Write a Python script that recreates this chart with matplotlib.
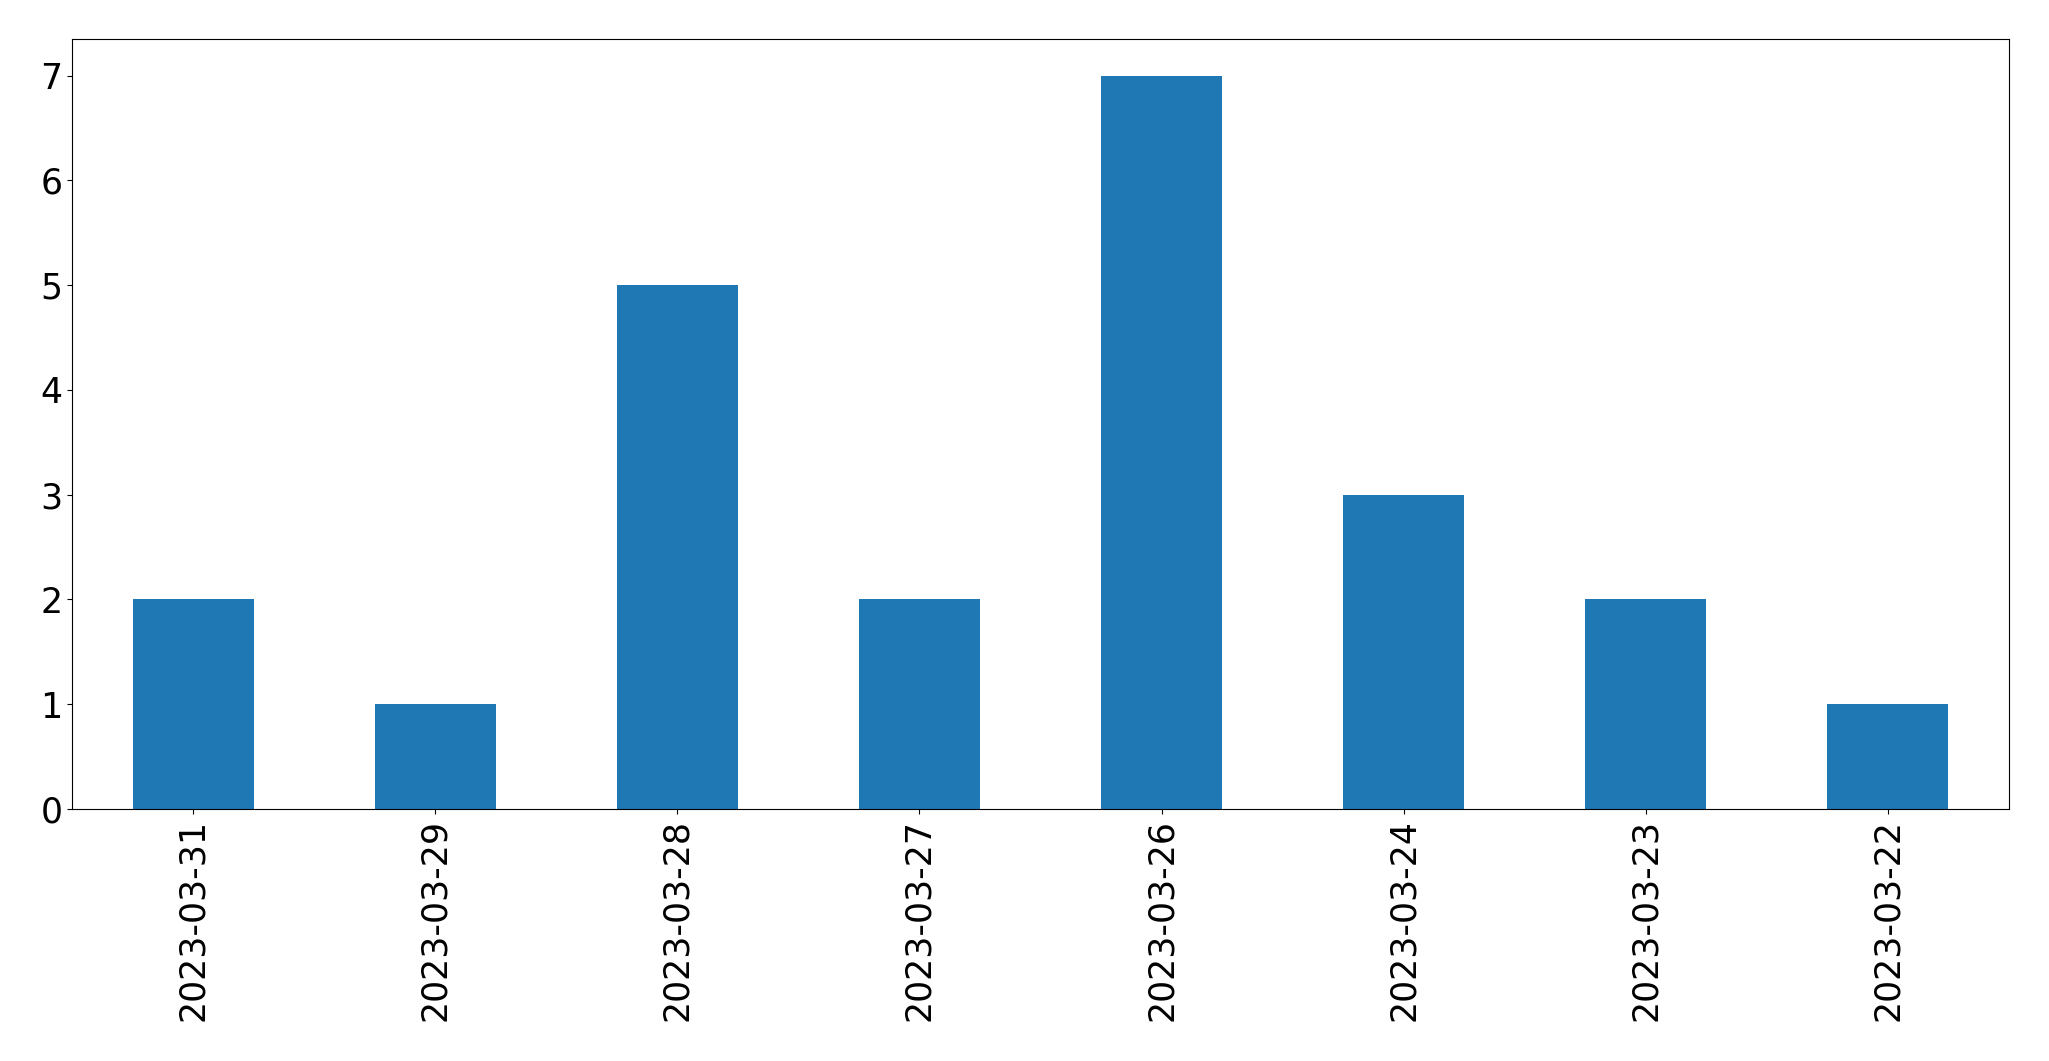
import matplotlib

matplotlib.use("Agg")
import matplotlib.pyplot as plt
import pandas as pd

dates = [
    "2023-03-31",
    "2023-03-29",
    "2023-03-28",
    "2023-03-27",
    "2023-03-26",
    "2023-03-24",
    "2023-03-23",
    "2023-03-22",
]
counts = [2, 1, 5, 2, 7, 3, 2, 1]

plt.rcParams.update({"font.size": 25, "xtick.labelsize": 25, "ytick.labelsize": 25})

series = pd.Series(counts, index=dates)

fig = plt.figure(figsize=(20.49, 10.61), dpi=100)
ax = fig.add_axes([72 / 2049, 1 - 809 / 1061, (2009 - 72) / 2049, (809 - 39) / 1061])
series.plot(kind="bar", ax=ax, color="#1f77b4")

fig.savefig("out.png", dpi=100)
